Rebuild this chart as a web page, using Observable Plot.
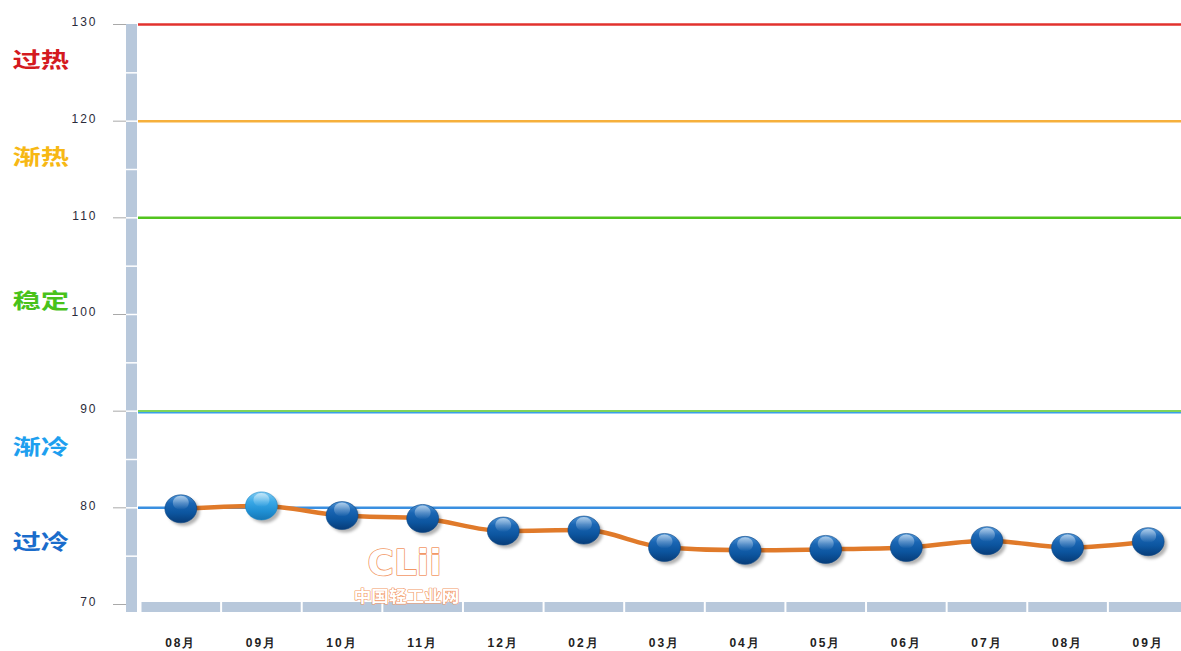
<!DOCTYPE html>
<html>
<head>
<meta charset="utf-8">
<script src="https://cdn.jsdelivr.net/npm/d3@7"></script>
<script src="https://cdn.jsdelivr.net/npm/@observablehq/plot@0.6"></script>
<style>
  html, body { margin: 0; padding: 0; background: #fff; }
  #chart svg { display: block; }
</style>
</head>
<body>
<div id="chart"></div>
<script>
// ---- data ----
const months = ["08月","09月","10月","11月","12月","02月","03月","04月","05月","06月","07月","08月","09月"];
const values = [79.9, 80.2, 79.2, 78.9, 77.6, 77.7, 75.9, 75.6, 75.7, 75.9, 76.6, 75.9, 76.5];
const yTicks = [70, 80, 90, 100, 110, 120, 130];
const levels = [130, 120, 110, 90, 80];
const levelColors = ["#E2322E", "#F6B03C", "#52C41E", "#7ED45A", "#3A8FE0"];
const zoneNames = ["过热", "渐热", "稳定", "渐冷", "过冷"];
const zoneValues = [126.3, 116.3, 101.4, 86.3, 76.4];
const zoneColors = ["#D41A1F", "#F7B814", "#48C21A", "#1E9FEF", "#1A6CCB"];

const W = 1181, H = 651;
const xs = d3.scaleLinear([0, 13], [140, 1188]);
const ys = d3.scaleLinear([70, 130], [604, 24]);
const px = v => xs.invert(v);   // pixel -> x units (decoration only)
const py = v => ys.invert(v);   // pixel -> y units (decoration only)

const pts = values.map((v, i) => ({i, m: months[i], v}));
const idx = d3.range(months.length);
const tag = name => () => name;

const ellipse = {
  draw(ctx, size) {
    const r = Math.sqrt(size / Math.PI), rx = r * 1.14, ry = r, k = 0.5523;
    ctx.moveTo(rx, 0);
    ctx.bezierCurveTo(rx, ry * k, rx * k, ry, 0, ry);
    ctx.bezierCurveTo(-rx * k, ry, -rx, ry * k, -rx, 0);
    ctx.bezierCurveTo(-rx, -ry * k, -rx * k, -ry, 0, -ry);
    ctx.bezierCurveTo(rx * k, -ry, rx, -ry * k, rx, 0);
    ctx.closePath();
  }
};

const chart = Plot.plot({
  width: W,
  height: H,
  margin: 0,
  x: {type: "linear", domain: [0, 13], range: [140, 1188], axis: null},
  y: {domain: [70, 130], range: [604, 24], axis: null},
  style: {fontFamily: "'Liberation Sans', Arial, sans-serif", background: "#fff"},
  marks: [
    // vertical axis bar
    Plot.rect([0], {x1: px(126), x2: px(137), y1: 130, y2: py(612), fill: "#B8C8DB"}),
    Plot.ruleY(d3.range(75, 130, 5), {x1: px(126), x2: px(137), stroke: "#fff", strokeWidth: 1.5}),
    // horizontal bottom bar
    Plot.rect([0], {x1: 0, x2: 13, y1: py(602), y2: py(612), fill: "#B8C8DB"}),
    Plot.ruleX(d3.range(0, 13), {y1: py(602), y2: py(612), stroke: "#fff", strokeWidth: 2}),
    // tick marks
    Plot.ruleY(yTicks, {x1: px(113), x2: px(126), stroke: "#A9A9A9", strokeWidth: 1}),
    // tick labels
    Plot.text(yTicks, {x: px(97), y: d => d, dy: -2, text: d => String(d), textAnchor: "end",
      fontSize: 12, fill: "#2b2b3a", ariaLabel: tag("ytick")}),
    // level lines
    Plot.ruleY(levels, {x1: px(138), x2: 13, y: d => d,
      stroke: (d, i) => levelColors[i], strokeWidth: 2.5}),
    Plot.ruleY([90], {x1: px(138), x2: 13, dy: 1.5, stroke: "#3AA0E8", strokeWidth: 1.5}),
    // zone labels
    Plot.text(zoneNames, {x: px(12), y: (d, i) => zoneValues[i], text: d => d, textAnchor: "start",
      fill: (d, i) => zoneColors[i], fontSize: 21, fontWeight: "bold",
      fontFamily: "'Noto Sans CJK SC', sans-serif", ariaLabel: tag("zone")}),
    // watermark
    Plot.text(["CLii"], {x: px(404), y: py(563), text: d => d, fontSize: 36, fontWeight: "bold",
      fill: "#fff", stroke: "#F29866", strokeWidth: 1.6, fontFamily: "'DejaVu Sans', sans-serif"}),
    Plot.text(["中国轻工业网"], {x: px(406), y: py(596), text: d => d, fontSize: 16, fontWeight: "bold",
      fill: "#fff", stroke: "#F29866", strokeWidth: 1.2, fontFamily: "'Noto Sans CJK SC', sans-serif",
      ariaLabel: tag("wmcn")}),
    // x labels
    Plot.text(idx, {x: i => i + 0.5, y: 70, dy: 39, text: i => months[i], fontSize: 12,
      fontWeight: "bold", fill: "#222", ariaLabel: tag("xtick")}),
    // series line
    Plot.line(pts, {x: d => d.i + 0.5, y: "v", curve: "monotone-x", stroke: "#E07A2A", strokeWidth: 4.5}),
    // marker shadows
    Plot.dot(pts, {x: d => d.i + 0.5, y: "v", r: 14, symbol: ellipse, dx: 3, dy: 3,
      fill: "rgba(0,0,0,0.3)", ariaLabel: tag("shadow")}),
    // markers
    Plot.dot(pts, {filter: d => d.i !== 1, x: d => d.i + 0.5, y: "v", r: 14, symbol: ellipse,
      fill: "url(#gDark)", stroke: "#0A4585", strokeWidth: 0.6}),
    Plot.dot(pts, {filter: d => d.i === 1, x: d => d.i + 0.5, y: "v", r: 14, symbol: ellipse,
      fill: "url(#gLight)", stroke: "#1A86C8", strokeWidth: 0.6}),
    // gloss
    Plot.dot(pts, {x: d => d.i + 0.5, y: "v", dy: -6, r: 7, symbol: ellipse,
      fill: "url(#gGloss)"})
  ]
});

const svg = d3.select(chart.tagName.toLowerCase() === "svg" ? chart : chart.querySelector("svg"));
const defs = svg.insert("defs", ":first-child");
function lg(id, stops) {
  const g = defs.append("linearGradient").attr("id", id).attr("x1", 0).attr("y1", 0).attr("x2", 0).attr("y2", 1);
  stops.forEach(([o, c, a]) => g.append("stop").attr("offset", o).attr("stop-color", c).attr("stop-opacity", a ?? 1));
}
lg("gDark", [[0, "#4F95D6"], [0.3, "#1A66B4"], [0.65, "#0C559F"], [1, "#073C78"]]);
lg("gLight", [[0, "#7FCBF2"], [0.35, "#3AA8E6"], [0.7, "#1F8FD3"], [1, "#1677B6"]]);
lg("gGloss", [[0, "#ffffff", 0.55], [1, "#ffffff", 0.0]]);
const f = defs.append("filter").attr("id", "blur").attr("x", "-50%").attr("y", "-50%").attr("width", "200%").attr("height", "200%");
f.append("feGaussianBlur").attr("stdDeviation", 1.6);
svg.selectAll('[aria-label="shadow"]').attr("filter", "url(#blur)");
svg.selectAll('text[aria-label="ytick"]').style("letter-spacing", "2px");
svg.selectAll('text[aria-label="xtick"]').style("letter-spacing", "2px");

// horizontal stretch of text (the reference glyphs are wider than tall)
function stretch(label, sx) {
  svg.selectAll(`text[aria-label="${label}"]`).each(function() {
    const t = d3.select(this);
    let tr = t.attr("transform");
    if (!tr) {
      const x = +t.attr("x") || 0, y = +t.attr("y") || 0;
      t.attr("x", null).attr("y", null);
      tr = `translate(${x},${y})`;
    }
    t.attr("transform", `${tr} scale(${sx},1)`);
  });
}
stretch("zone", 1.35);
stretch("wmcn", 1.1);

document.getElementById("chart").appendChild(chart);
</script>
</body>
</html>
